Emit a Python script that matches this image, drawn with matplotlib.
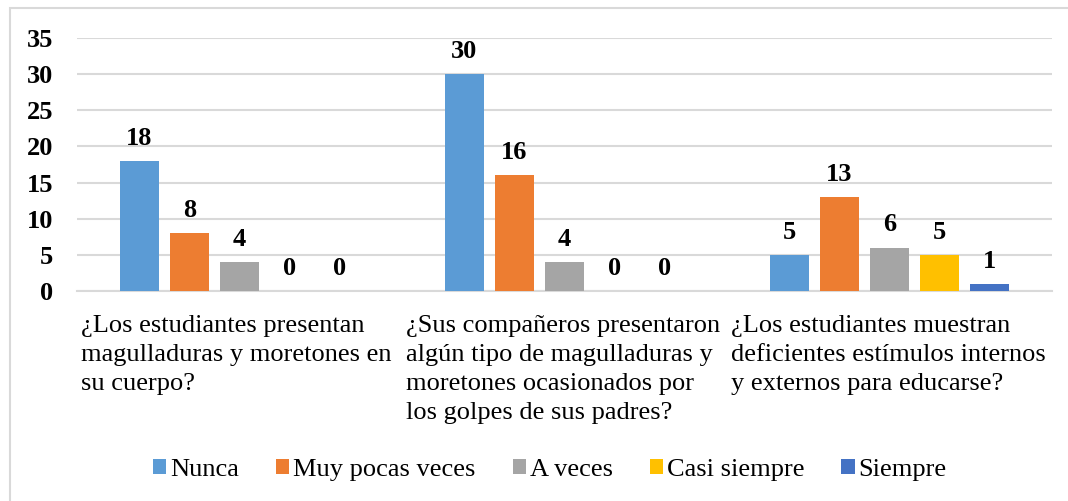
import numpy as np
import matplotlib.pyplot as plt
from matplotlib.patches import Rectangle

# data
categories = [
    "¿Los estudiantes presentan\nmagulladuras y moretones en\nsu cuerpo?",
    "¿Sus compañeros presentaron\nalgún tipo de magulladuras y\nmoretones ocasionados por\nlos golpes de sus padres?",
    "¿Los estudiantes muestran\ndeficientes estímulos internos\ny externos para educarse?",
]
series_names = ["Nunca", "Muy pocas veces", "A veces", "Casi siempre", "Siempre"]
nunca = [18, 30, 5]
muy_pocas = [8, 16, 13]
a_veces = [4, 4, 6]
casi_siempre = [0, 0, 5]
siempre = [0, 0, 1]
colors = ["#5B9BD5", "#ED7D31", "#A5A5A5", "#FFC000", "#4472C4"]

plt.rcParams['font.family'] = ['Liberation Serif', 'DejaVu Serif']

fig = plt.figure(figsize=(10.68, 5.01), dpi=100)
ax = fig.add_axes([0.0721, 0.4192, 0.9129, 0.5050])

# light frame around the chart
fig.patches.append(Rectangle((10 / 1068, -0.1), 1.2, 1 - 8 / 501 + 0.1,
                             transform=fig.transFigure, fill=False,
                             edgecolor="#D9D9D9", linewidth=1.5))

x = np.arange(len(categories))
step = 0.154
width = 0.12
all_series = [nunca, muy_pocas, a_veces, casi_siempre, siempre]
for i, (name, vals, col) in enumerate(zip(series_names, all_series, colors)):
    pos = x + (i - 2) * step
    ax.bar(pos, vals, width, color=col, label=name, zorder=3)
    for xp, v in zip(pos, vals):
        ax.annotate(str(v), (xp, v), xytext=(0, 8), textcoords="offset points",
                    ha="center", va="bottom", fontsize=19, fontweight="bold")

ax.set_xlim(-0.5, len(categories) - 0.5)
ax.set_ylim(0, 35)
ax.set_yticks(range(0, 36, 5))
ax.set_yticklabels([str(t) for t in range(0, 36, 5)], fontsize=19, fontweight="bold")
ax.tick_params(axis="y", length=0, pad=17)
ax.set_xticks([])
ax.grid(axis="y", color="#D9D9D9", linewidth=1.5, zorder=0)
for s in ["left", "right", "top"]:
    ax.spines[s].set_visible(False)
ax.spines["bottom"].set_color("#D9D9D9")
ax.spines["bottom"].set_linewidth(1.5)

for i, cat in enumerate(categories):
    ax.annotate(cat, (i - 0.5, 0), xycoords=("data", "axes fraction"),
                xytext=(3, -17.5), textcoords="offset points",
                ha="left", va="top", fontsize=19, linespacing=1.41)

ax.legend(loc="center", bbox_to_anchor=(550 / 1068, 1 - 470 / 501),
          bbox_transform=fig.transFigure, ncol=5, frameon=False, fontsize=19,
          handlelength=0.5, handleheight=0.5, handletextpad=0.15,
          columnspacing=1.4)

fig.savefig("out.png", dpi=100)
